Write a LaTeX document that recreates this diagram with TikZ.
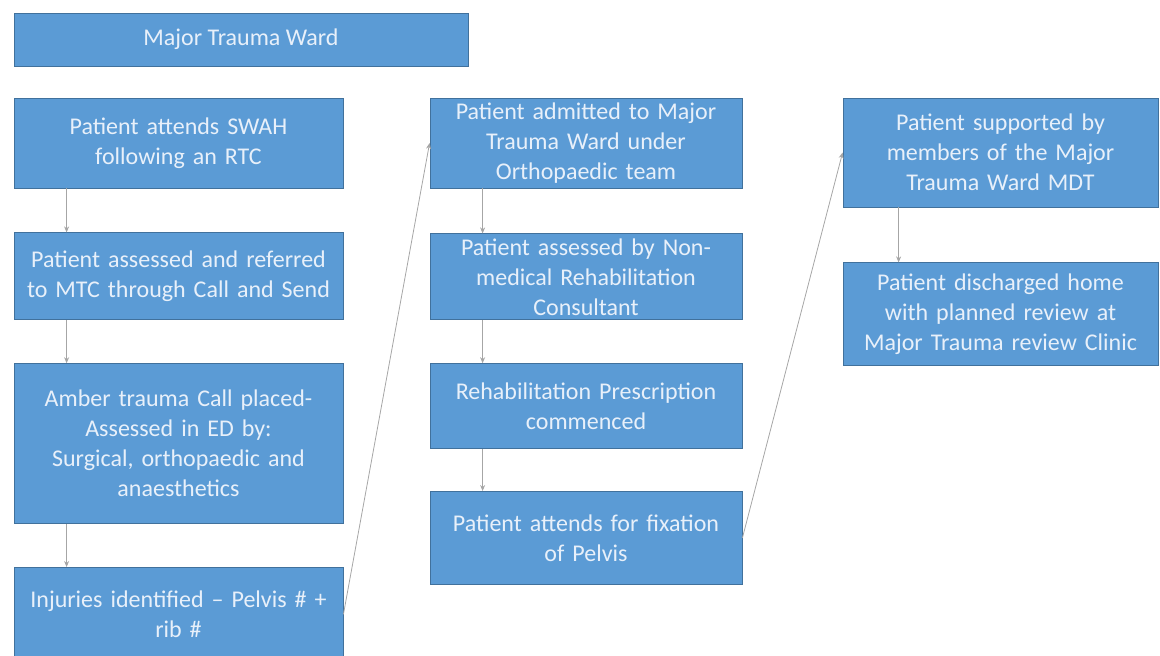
\documentclass[tikz,border=0pt]{standalone}
\usepackage{fontspec}
\setmainfont{Carlito}
\usepackage{xcolor}
\definecolor{boxblue}{RGB}{91,155,213}
\definecolor{boxline}{RGB}{65,113,156}
\definecolor{boxtext}{RGB}{232,240,250}
\usetikzlibrary{arrows.meta,positioning}
\tikzset{
  box/.style={draw=boxline,line width=0.4pt,fill=boxblue,text=boxtext,%
    font=\fontsize{12}{15}\selectfont,inner xsep=4pt,inner ysep=2pt,align=center},
  head/.style={box,minimum width=227pt,minimum height=26.5pt},
  flow/.style={-{Stealth[length=3pt,width=2.5pt]},line width=0.4pt,draw=gray!70},
}

\begin{document}
\begin{tikzpicture}[x=1pt,y=-1pt,node distance=21.5pt]
\useasboundingbox (0,0) rectangle (580,327.5);
\node[head] (ward) at (120.5,19.75) {Major Trauma Ward};
% first column
\node[box,text width=156.5pt,minimum height=45pt] (swah) at (89.25,71.5) {Patient attends SWAH\\following an RTC};
\node[box,text width=156.5pt,minimum height=43.5pt,below=22pt of swah] (mtc) {Patient assessed and referred\\to MTC through Call and Send};
\node[box,text width=156.5pt,minimum height=80pt,below=of mtc] (amber) {Amber trauma Call placed-\\Assessed in ED by:\\Surgical, orthopaedic and\\anaesthetics};
\node[box,text width=156.5pt,minimum height=47pt,below=of amber] (inj) {Injuries identified -- Pelvis \# +\\rib \#};
% second column
\node[box,text width=148pt,minimum height=45pt] (adm) at (293,71.5) {Patient admitted to Major\\Trauma Ward under\\Orthopaedic team};
\node[box,text width=148pt,minimum height=43pt,below=22.5pt of adm] (cons) {Patient assessed by Non-\\medical Rehabilitation\\Consultant};
\node[box,text width=148pt,minimum height=42.5pt,below=of cons] (presc) {Rehabilitation Prescription\\commenced};
\node[box,text width=148pt,minimum height=46.5pt,below=21pt of presc] (fix) {Patient attends for fixation\\of Pelvis};
% third column
\node[box,text width=149.5pt,minimum height=54.5pt] (mdt) at (500.25,76.25) {Patient supported by\\members of the Major\\Trauma Ward MDT};
\node[box,text width=149.5pt,minimum height=51.5pt,below=27.5pt of mdt] (home) {Patient discharged home\\with planned review at\\Major Trauma review Clinic};
% connectors
\draw[flow] ([xshift=26.5pt]swah.south west) -- ([xshift=26.5pt]mtc.north west);
\draw[flow] ([xshift=26.5pt]mtc.south west) -- ([xshift=26.5pt]amber.north west);
\draw[flow] ([xshift=26.5pt]amber.south west) -- ([xshift=26.5pt]inj.north west);
\draw[flow] (inj.east) -- (adm.west);
\draw[flow] ([xshift=26.5pt]adm.south west) -- ([xshift=26.5pt]cons.north west);
\draw[flow] ([xshift=26.5pt]cons.south west) -- ([xshift=26.5pt]presc.north west);
\draw[flow] ([xshift=26.5pt]presc.south west) -- ([xshift=26.5pt]fix.north west);
\draw[flow] (fix.east) -- (mdt.west);
\draw[flow] ([xshift=28pt]mdt.south west) -- ([xshift=28pt]home.north west);
\end{tikzpicture}
\end{document}
